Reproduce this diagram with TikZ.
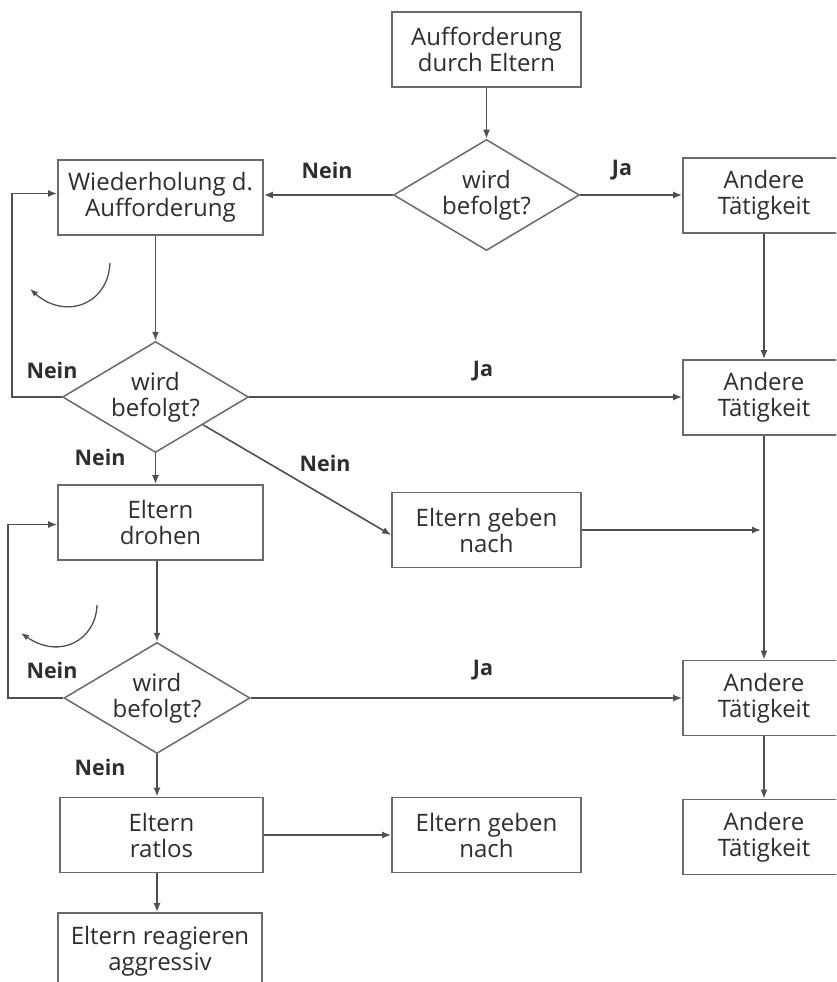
\documentclass[tikz,border=0pt]{standalone}
\usepackage{fontspec}
\setmainfont{Open Sans}
\usetikzlibrary{shapes.geometric,arrows.meta,calc}
\definecolor{txt}{HTML}{2E2E2E}
\definecolor{brd}{HTML}{6A6A6A}
\definecolor{ln}{HTML}{505050}
\begin{document}
\begin{tikzpicture}[x=1pt,y=-1pt,
  box/.style={draw=brd,line width=1.7pt,minimum width=189pt,minimum height=75pt,inner sep=0pt,align=center,text=txt,font=\fontsize{24}{26}\selectfont},
  widebox/.style={box,minimum width=205pt},
  rbox/.style={box,minimum width=162pt},
  dia/.style={diamond,draw=brd,line width=1.5pt,minimum width=186pt,minimum height=111pt,aspect=1.7,inner sep=0pt,align=center,text=txt,font=\fontsize{24}{26}\selectfont},
  arr/.style={draw=ln,line width=1.6pt,-{Latex[length=9pt,width=7pt]}},
  lbl/.style={font=\bfseries\fontsize{21.5}{24}\selectfont,text=txt}]
\useasboundingbox (0,0) rectangle (836,982);
\fill[white] (0,0) rectangle (836,982);
\clip (0,0) rectangle (836,982);

% nodes
\node[box] (top) at (486.5,49.5) {Aufforderung\\durch Eltern};
\node[dia] (d1) at (486.5,195) {wird\\befolgt?};
\node[widebox] (w) at (160.5,197.5) {Wiederholung d.\\Aufforderung};
\node[rbox] (r1) at (764,195.5) {Andere\\Tätigkeit};
\node[dia] (d2) at (155.5,397) {wird\\befolgt?};
\node[rbox] (r2) at (764,397.5) {Andere\\Tätigkeit};
\node[widebox] (dr) at (160.5,522.5) {Eltern\\drohen};
\node[box] (g1) at (486.5,530) {Eltern geben\\nach};
\node[dia] (d3) at (157,698) {wird\\befolgt?};
\node[rbox] (r3) at (764,698) {Andere\\Tätigkeit};
\node[widebox,minimum width=203pt] (ra) at (161.5,835) {Eltern\\ratlos};
\node[box] (g2) at (486.5,835) {Eltern geben\\nach};
\node[rbox] (r4) at (764,837) {Andere\\Tätigkeit};
\node[widebox,minimum width=204pt,minimum height=76pt] (ag) at (160,951) {Eltern reagieren\\aggressiv};

% connectors
\draw[arr] (top) -- (d1);
\draw[arr] (d1.west) -- (w.east |- d1.west);
\draw[arr] (d1.east) -- (r1.west |- d1.east);
\draw[arr] (d2.north |- w.south) -- (d2.north);
\draw[arr] (d2.west) -- ++(-50,0) |- ([yshift=4pt]w.west);
\draw[arr] (d2.east) -- (r2.west |- d2.east);
\draw[arr] (d2) -- ([yshift=-5pt]g1.west);
\draw[arr] (d2.south) -- (d2.south |- dr.north);
\draw[arr] (r1) -- (r2);
\draw[arr] (r2) -- (r3);
\draw[arr] (g1.east) -- ([xshift=-3pt]g1.east -| r2.south);
\draw[arr] (d3.north |- dr.south) -- (d3.north);
\draw[arr] (d3.west) -- ++(-55,0) |- ([yshift=-2pt]dr.west);
\draw[arr] (d3.east) -- (r3.west |- d3.east);
\draw[arr] (d3.south) -- (d3.south |- ra.north);
\draw[arr] (ra.east) -- (g2.west);
\draw[arr] (r3) -- (r4);
\draw[arr] (d3.south |- ra.south) -- (d3.south |- ag.north);

% curved arrows
\draw[draw=ln,line width=1.3pt,-{Latex[length=8pt,width=6pt]}] (110,263) .. controls (108,305) and (65,320) .. (30,289);
\draw[draw=ln,line width=1.3pt,-{Latex[length=8pt,width=6pt]}] (97,605) .. controls (96,640) and (60,660) .. (21,633);

% labels
\node[lbl] at (327,170) {Nein};
\node[lbl] at (622,170) {Ja};
\node[lbl] at (52,370) {Nein};
\node[lbl] at (483,371) {Ja};
\node[lbl] at (100,457) {Nein};
\node[lbl] at (325,463) {Nein};
\node[lbl] at (52,670) {Nein};
\node[lbl] at (483,670) {Ja};
\node[lbl] at (100,767) {Nein};
\end{tikzpicture}
\end{document}
